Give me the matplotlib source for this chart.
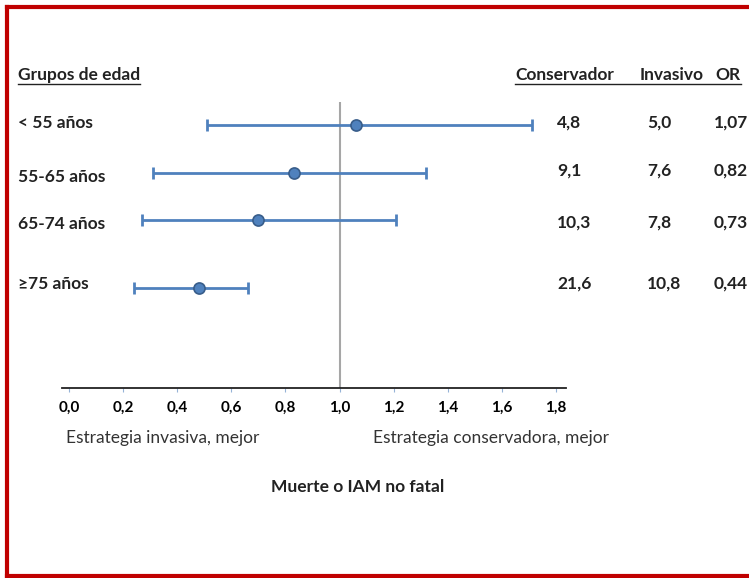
import numpy as np
import matplotlib.pyplot as plt

plt.rcParams['font.family'] = ['Lato', 'DejaVu Sans']

colors = {
    "blue": "#4f81bd",
    "edge": "#385d8a",
    "grey": "#a6a6a6",
    "red": "#c00000",
    "tick": "#95b3d7",
}

# Data
groups = ["< 55 años", "55-65 años", "65-74 años", "\u226575 años"]
or_point = [1.06, 0.83, 0.70, 0.48]
ci_low = [0.51, 0.31, 0.27, 0.24]
ci_high = [1.71, 1.32, 1.21, 0.66]
conservador = ["4,8", "9,1", "10,3", "21,6"]
invasivo = ["5,0", "7,6", "7,8", "10,8"]
or_text = ["1,07", "0,82", "0,73", "0,44"]
xticks = [0.0, 0.2, 0.4, 0.6, 0.8, 1.0, 1.2, 1.4, 1.6, 1.8]

# Layout (pixel rows, from top)
W, H = 749, 578
row_y = [125, 173, 220, 288]
label_y = [123, 177, 224, 284]
value_y = [123, 171, 223, 284]
FS = 12.5

fig = plt.figure(figsize=(W / 100, H / 100), dpi=100)

# Overlay for texts and frame
ov = fig.add_axes([0, 0, 1, 1])
ov.set_xlim(0, W)
ov.set_ylim(H, 0)
ov.axis("off")

# Forest plot axes
left, right, top, bottom = 62, 566, 100, 388
ax = fig.add_axes([left / W, (H - bottom) / H, (right - left) / W, (bottom - top) / H])
ax.set_xlim(-0.026, 1.837)
ax.set_ylim(bottom, top)
ax.patch.set_alpha(0)
for s in ["top", "left", "right"]:
    ax.spines[s].set_visible(False)
ax.spines["bottom"].set_linewidth(1.3)
ax.spines["bottom"].set_color("#222222")
ax.set_yticks([])
ax.set_xticks(xticks)
ax.set_xticklabels(["{:.1f}".format(t).replace(".", ",") for t in xticks],
                   fontsize=11, fontweight="bold")
ax.tick_params(axis="x", length=3, color=colors["tick"], pad=6)

ax.vlines(1.0, 102, bottom, color=colors["grey"], lw=1.5, zorder=1)
ax.hlines(row_y, ci_low, ci_high, color=colors["blue"], lw=2, zorder=2)
ax.vlines(ci_low, np.array(row_y) - 6, np.array(row_y) + 6, color=colors["blue"], lw=2, zorder=2)
ax.vlines(ci_high, np.array(row_y) - 6, np.array(row_y) + 6, color=colors["blue"], lw=2, zorder=2)
ax.plot(or_point, row_y, "o", ms=8, mfc=colors["blue"], mec=colors["edge"], mew=1.2, zorder=3)

# Headers
hdr = dict(fontsize=FS, fontweight="bold", color="#222222", va="baseline")
ov.text(18, 80, "Grupos de edad", ha="left", **hdr)
ov.plot([18, 140], [84, 84], color="#222222", lw=1)
ov.text(515, 80, "Conservador", ha="left", **hdr)
ov.text(640, 80, "Invasivo", ha="left", **hdr)
ov.text(741, 80, "OR", ha="right", **hdr)
ov.plot([515, 741], [84, 84], color="#222222", lw=1)

# Row labels and table values
for i in range(len(groups)):
    ov.text(18, label_y[i], groups[i], ha="left", va="center",
            fontsize=FS, fontweight="bold", color="#222222")
    ov.text(557, value_y[i], conservador[i], ha="left", va="center",
            fontsize=FS, fontweight="bold", color="#222222")
    ov.text(647, value_y[i], invasivo[i], ha="left", va="center",
            fontsize=FS, fontweight="bold", color="#222222")
    ov.text(714, value_y[i], or_text[i], ha="left", va="center",
            fontsize=FS, fontweight="bold", color="#222222")

# Bottom captions
ov.text(66, 438, "Estrategia invasiva, mejor", ha="left", va="center",
        fontsize=FS, color="#333333")
ov.text(373, 438, "Estrategia conservadora, mejor", ha="left", va="center",
        fontsize=FS, color="#333333")
ov.text(358, 487, "Muerte o IAM no fatal", ha="center", va="center",
        fontsize=FS, fontweight="bold", color="#222222")

# Red frame
ov.plot([7, 7], [7, 577], color=colors["red"], lw=3, solid_capstyle="projecting")
ov.plot([7, W], [7, 7], color=colors["red"], lw=3, solid_capstyle="projecting")
ov.plot([7, W], [576, 576], color=colors["red"], lw=3, solid_capstyle="projecting")

fig.savefig("out.png", dpi=100)
